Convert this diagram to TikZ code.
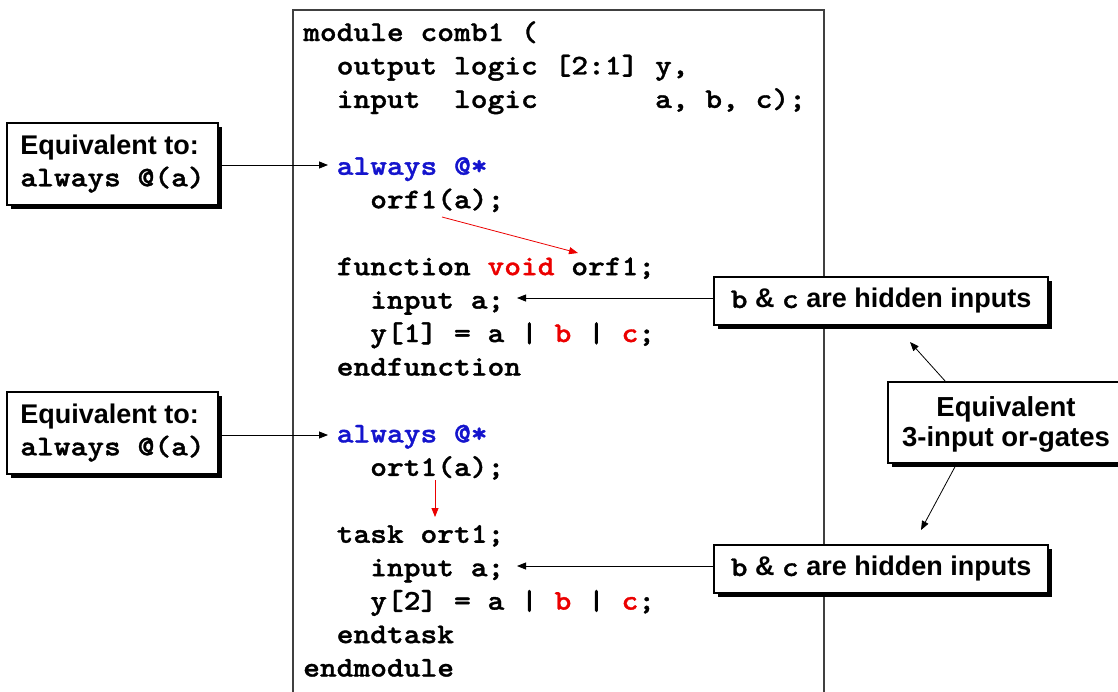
\documentclass[tikz,border=0pt]{standalone}
\usepackage{fontspec}
\setmainfont{Liberation Sans}
\newfontfamily\cour{lmmonolt10-bold.otf}[FakeStretch=1.12,FakeBold=1.2]
\usetikzlibrary{shadows,arrows.meta}
\definecolor{kwblue}{RGB}{20,20,205}
\definecolor{kwred}{RGB}{235,0,0}
\begin{document}
\begin{tikzpicture}[x=1pt,y=-1pt,
  code/.style={anchor=base west,inner sep=0pt,font=\cour\fontsize{28.5}{28}\selectfont},
  callout/.style={draw=black,line width=1.1pt,fill=white,
    drop shadow={shadow xshift=4pt,shadow yshift=-4pt,fill=black,opacity=1}},
  conn/.style={-{Triangle[length=9pt,width=7pt]},line width=0.8pt},
  redconn/.style={-{Triangle[length=9pt,width=7pt]},line width=0.8pt,draw=kwred},
]
\useasboundingbox (0,0) rectangle (1118,691);
\begin{scope}
\clip (0,0) rectangle (1118,691);
% code box
\draw[line width=1.2pt,draw=black!75] (293,700) -- (293,10) -- (824,10) -- (824,700);
\def\cx{303}
\def\ls{33.45}
\def\by{41}
\node[code] (l0)  at (\cx, \by+0*\ls) {module comb1 (};
\node[code] (l1)  at (\cx, \by+1*\ls) {~~output logic [2:1] y,};
\node[code] (l2)  at (\cx, \by+2*\ls) {~~input~~logic~~~~~~~a, b, c);};
\node[code] (l4)  at (\cx, \by+4*\ls) {~~\textcolor{kwblue}{always @*}};
\node[code] (l5)  at (\cx, \by+5*\ls) {~~~~orf1(a);};
\node[code] (l7)  at (\cx, \by+7*\ls) {~~function \textcolor{kwred}{void} orf1;};
\node[code] (l8)  at (\cx, \by+8*\ls) {~~~~input a;};
\node[code] (l9)  at (\cx, \by+9*\ls) {~~~~y[1] = a | \textcolor{kwred}{b} | \textcolor{kwred}{c};};
\node[code] (l10) at (\cx, \by+10*\ls) {~~endfunction};
\node[code] (l12) at (\cx, \by+12*\ls) {~~\textcolor{kwblue}{always @*}};
\node[code] (l13) at (\cx, \by+13*\ls) {~~~~ort1(a);};
\node[code] (l15) at (\cx, \by+15*\ls) {~~task ort1;};
\node[code] (l16) at (\cx, \by+16*\ls) {~~~~input a;};
\node[code] (l17) at (\cx, \by+17*\ls) {~~~~y[2] = a | \textcolor{kwred}{b} | \textcolor{kwred}{c};};
\node[code] (l18) at (\cx, \by+18*\ls) {~~endtask};
\node[code] (l19) at (\cx, \by+19*\ls) {endmodule};

% anchor coordinates in the code
\coordinate (al1) at (328,165);
\coordinate (al2) at (328,435);
\coordinate (in1) at (517,298);
\coordinate (in2) at (517,566);
\coordinate (r1s) at (442,217);
\coordinate (r1e) at (578,253);
\coordinate (r2s) at (435,480);
\coordinate (r2e) at (435,517);

% left callouts
\node[callout,minimum width=211pt,minimum height=82pt,inner sep=0pt,align=left] (eq1) at (112.5,164)
  {\fontsize{27}{34}\selectfont\bfseries Equivalent to:\\[5pt]\cour\fontsize{28.5}{34}\selectfont always @(a)};
\node[callout,minimum width=211pt,minimum height=82pt,inner sep=0pt,align=left] (eq2) at (112.5,433)
  {\fontsize{27}{34}\selectfont\bfseries Equivalent to:\\[5pt]\cour\fontsize{28.5}{34}\selectfont always @(a)};
\draw[conn] (eq1.east |- al1) -- (al1);
\draw[conn] (eq2.east |- al2) -- (al2);

% hidden inputs callouts
\node[callout,minimum width=334pt,minimum height=48pt,inner sep=0pt] (h1) at (881,301)
  {\fontsize{27}{30}\selectfont\bfseries{\cour\fontsize{28.5}{30}\selectfont b} \& {\cour\fontsize{28.5}{30}\selectfont c} are hidden inputs};
\node[callout,minimum width=334pt,minimum height=48pt,inner sep=0pt] (h2) at (881,569)
  {\fontsize{27}{30}\selectfont\bfseries{\cour\fontsize{28.5}{30}\selectfont b} \& {\cour\fontsize{28.5}{30}\selectfont c} are hidden inputs};
\draw[conn] (h1.west |- in1) -- (in1);
\draw[conn] (h2.west |- in2) -- (in2);

% equivalent gates callout
\node[callout,minimum width=240pt,minimum height=81pt,inner sep=0pt] (eqg) at (1008,422.5) {};
\node[inner sep=0pt,align=center,font=\bfseries\fontsize{27.5}{30}\selectfont] (eqgt) at (1006,424) {Equivalent\\3-input or-gates};
\coordinate (g1) at (910,342);
\coordinate (g2) at (921,530);
\draw[conn] (946,382) -- (g1);
\draw[conn] (957,463) -- (g2);

% red arrows
\draw[redconn] (r1s) -- (r1e);
\draw[redconn] (r2s) -- (r2e);
\end{scope}
\end{tikzpicture}
\end{document}
